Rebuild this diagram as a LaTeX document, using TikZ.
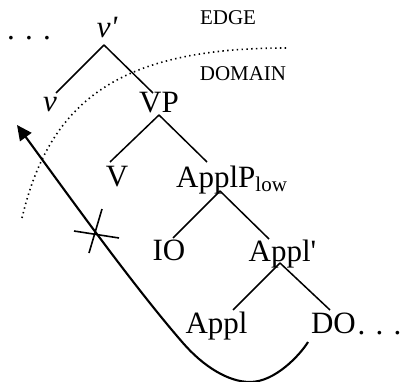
\documentclass[tikz,border=0pt]{standalone}
\usepackage{fontspec}
\newfontfamily\tr{Liberation Serif}
\usetikzlibrary{arrows.meta}
\begin{document}
\begin{tikzpicture}[x=1pt,y=-1pt,
  lab/.style={font=\tr\fontsize{31}{31}\selectfont, inner sep=0pt, anchor=base},
  tag/.style={font=\tr\fontsize{21}{21}\selectfont, inner sep=0pt, anchor=base},
  branch/.style={line width=1.5pt},
  boundary/.style={line width=1.6pt, dash pattern=on 1.4pt off 3.4pt},
  movement/.style={line width=2.1pt, -{Triangle[length=15pt,width=14pt]}},
  blocker/.style={line width=1.6pt}]
\useasboundingbox (0,0) rectangle (401,382);

% tree labels
\node[lab] (ldots) at (29,40) {. . .};
\node[lab] (vbar) at (107,38) {\itshape v'};
\node[lab] (v) at (50,112) {\itshape v};
\node[lab] (VP) at (159,113) {VP};
\node[lab] (V) at (117,186) {V};
\node[lab, anchor=base west] (ApplP) at (176,187) {ApplP\raisebox{-4pt}{\fontsize{21}{21}\selectfont low}};
\node[lab] (IO) at (169,260) {IO};
\node[lab] (Applbar) at (282.5,261) {Appl'};
\node[lab] (Appl) at (216.5,333) {Appl};
\node[lab] (DO) at (333.5,333) {DO};
\node[lab] (rdots) at (379.5,334) {. . .};

% region labels
\node[tag] (edge) at (228,25) {EDGE};
\node[tag] (domain) at (243,81) {DOMAIN};

% branches
\draw[branch] ([shift={(-3,7)}]vbar.base) -- ([shift={(6,-19)}]v.base);
\draw[branch] ([shift={(-3,7)}]vbar.base) -- ([shift={(-6,-20)}]VP.base);
\draw[branch] ([shift={(0,2)}]VP.base) -- ([shift={(-7,-24)}]V.base);
\draw[branch] ([shift={(0,2)}]VP.base) -- ([shift={(31,-25)}]ApplP.base west);
\draw[branch] ([shift={(44,4)}]ApplP.base west) -- ([shift={(4,-22)}]IO.base);
\draw[branch] ([shift={(44,4)}]ApplP.base west) -- ([shift={(-13.5,-22)}]Applbar.base);
\draw[branch] ([shift={(-2.5,2)}]Applbar.base) -- ([shift={(16.5,-23)}]Appl.base);
\draw[branch] ([shift={(-2.5,2)}]Applbar.base) -- ([shift={(-3.5,-23)}]DO.base);

% edge / domain boundary
\draw[boundary] (22,218) .. controls (50,100) and (120,48) .. (286,48);

% movement path out of the domain
\coordinate (tip) at (17,125);
\draw[movement] ([shift={(-25.5,9)}]DO.base)
  .. controls (300,355) and (275,382) .. (250,382)
  .. controls (228,382) and (203,366) .. (183,343)
  .. controls (133,285.5) and (67,193.5) .. (tip);

% blocked crossing
\coordinate (block) at (96,233);
\draw[blocker] ([shift={(-22,-2)}]block) -- ([shift={(23,5)}]block);
\draw[blocker] ([shift={(6,-24)}]block) -- ([shift={(-7,20)}]block);
\end{tikzpicture}
\end{document}
